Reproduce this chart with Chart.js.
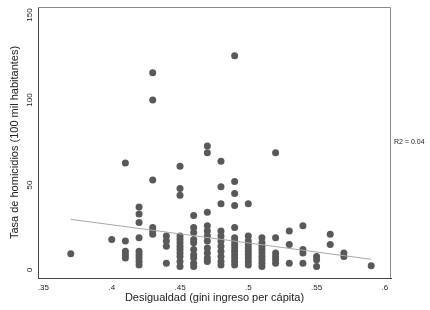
<!DOCTYPE html>
<html>
<head>
<meta charset="utf-8">
<script src="https://cdn.jsdelivr.net/npm/chart.js@4"></script>
<style>
  html, body { margin: 0; padding: 0; background: #fff; }
  #wrap { width: 430px; height: 310px; }
</style>
</head>
<body>
<div id="wrap"><canvas id="chart" width="430" height="310"></canvas></div>
<script>
// gini values (x) and homicide rates (y), grouped by column
const giniCols = [0.37, 0.40, 0.41, 0.42, 0.43, 0.44, 0.45, 0.46, 0.47, 0.48,
                  0.49, 0.50, 0.51, 0.52, 0.53, 0.54, 0.55, 0.56, 0.57, 0.59];
const homicidios = [
  [9.5],
  [18],
  [63, 17, 11, 9, 7],
  [37, 33, 28, 19, 11, 9, 7, 5, 3],
  [116, 100, 53, 25, 23, 21],
  [20, 17, 14, 4],
  [61, 48, 44, 20, 18, 16, 14, 12, 10, 8, 5, 2],
  [32, 25, 22, 18, 16, 12, 9, 7, 4, 2],
  [73, 69, 34, 26, 23, 20, 17, 13, 10, 7, 5],
  [64, 49, 39, 23, 20, 17, 14, 11, 8, 5, 3],
  [126, 52, 45, 38, 25, 19, 17, 15, 13, 11, 9, 7, 5, 3],
  [39, 20, 17, 15, 13, 11, 9, 7, 5, 3],
  [19, 16, 14, 12, 10, 8, 6, 4, 2],
  [69, 19, 10, 8, 6, 4],
  [23, 15, 4],
  [26, 12, 10, 4],
  [8, 6, 2],
  [21, 15],
  [10, 8],
  [2.5]
];
// fitted line (ends)
const fitX = [0.37, 0.59];
const fitY = [29.8, 6.3];

const xTicks = [0.35, 0.40, 0.45, 0.50, 0.55, 0.60];
const xTickLabels = ['.35', '.4', '.45', '.5', '.55', '.6'];
const yTicks = [0, 50, 100, 150];
const r2Label = 'R2 = 0.04';

const points = [];
giniCols.forEach((g, i) => homicidios[i].forEach(v => points.push({x: g, y: v})));

const r2Plugin = {
  id: 'r2',
  afterDraw(chart) {
    const ctx = chart.ctx;
    const a = chart.chartArea;
    ctx.save();
    // stata-style frame on top and right
    ctx.strokeStyle = '#8a8a8a';
    ctx.lineWidth = 1;
    ctx.beginPath();
    ctx.moveTo(a.left, a.top + 0.5);
    ctx.lineTo(a.right - 0.5, a.top + 0.5);
    ctx.lineTo(a.right - 0.5, a.bottom);
    ctx.stroke();
    ctx.fillStyle = '#222';
    ctx.font = '7px "Liberation Sans", Arial, sans-serif';
    ctx.textBaseline = 'middle';
    ctx.fillText(r2Label, a.right + 3, (a.top + a.bottom) / 2);
    ctx.restore();
  }
};

const font = '"Liberation Sans", Arial, sans-serif';

new Chart(document.getElementById('chart'), {
  type: 'scatter',
  data: {
    datasets: [
      {
        data: points,
        backgroundColor: '#595959',
        borderColor: '#595959',
        pointRadius: 3.5,
        pointBorderWidth: 0,
        order: 2
      },
      {
        type: 'line',
        data: fitX.map((x, i) => ({x: x, y: fitY[i]})),
        borderColor: '#a8a8a8',
        borderWidth: 1,
        pointRadius: 0,
        fill: false,
        order: 1
      }
    ]
  },
  options: {
    responsive: false,
    animation: false,
    layout: { padding: { left: 0, top: 7, right: 39, bottom: 0 } },
    plugins: { legend: { display: false }, tooltip: { enabled: false } },
    scales: {
      x: {
        type: 'linear',
        min: 0.346,
        max: 0.6045,
        afterBuildTicks: s => { s.ticks = xTicks.map(v => ({value: v})); },
        afterFit: s => { s.height = 32; },
        grid: { display: false, drawTicks: true, tickLength: 4, tickColor: '#444' },
        border: { color: '#444' },
        ticks: {
          color: '#222',
          font: { family: font, size: 8 },
          padding: 1,
          maxRotation: 0,
          callback: (v) => xTickLabels[xTicks.indexOf(v)]
        },
        title: {
          display: true,
          text: 'Desigualdad (gini ingreso per cápita)',
          color: '#222',
          font: { family: font, size: 11 },
          padding: { top: 0, bottom: 5 }
        }
      },
      y: {
        min: -4.7,
        max: 154.7,
        afterBuildTicks: s => { s.ticks = yTicks.map(v => ({value: v})); },
        afterFit: s => { s.width = 38; },
        grid: { display: false, drawTicks: true, tickLength: 4, tickColor: '#444' },
        border: { color: '#444' },
        ticks: {
          color: '#222',
          font: { family: font, size: 8 },
          padding: -2.5,
          crossAlign: 'center',
          minRotation: 90,
          maxRotation: 90
        },
        title: {
          display: true,
          text: 'Tasa de homicidios (100 mil habitantes)',
          color: '#222',
          font: { family: font, size: 11 },
          padding: { top: 8, bottom: 0 }
        }
      }
    }
  },
  plugins: [r2Plugin]
});
</script>
</body>
</html>
